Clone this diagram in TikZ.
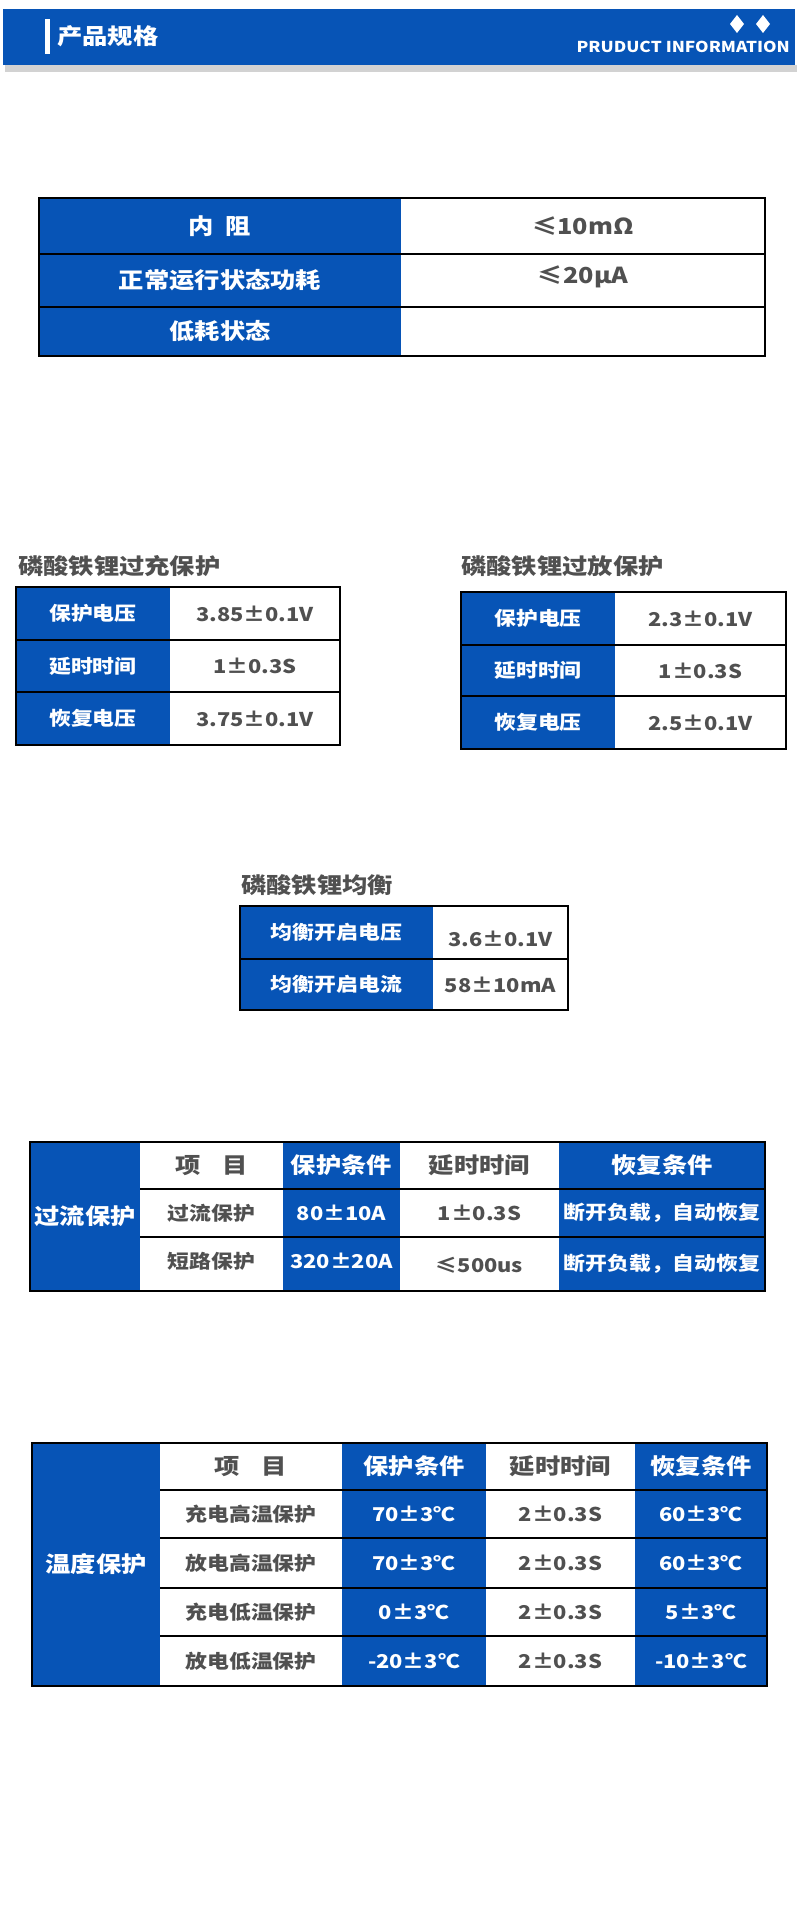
\documentclass[tikz,border=0pt]{standalone}
\usepackage{fontspec}
\newfontfamily\cjk[FakeStretch=1.15]{Noto Sans CJK SC}
\definecolor{pblue}{HTML}{0754B6}
\definecolor{tgray}{HTML}{505050}
\tikzset{wt/.style={text=white,font=\cjk\bfseries\fontsize{19}{22}\selectfont,inner sep=0pt},
gt/.style={text=tgray,font=\cjk\bfseries\fontsize{19}{22}\selectfont,inner sep=0pt},
big/.style={font=\cjk\bfseries\fontsize{22}{26}\selectfont},
rule/.style={line width=2.4pt,black}}
\newcommand\bcell[6]{\fill[pblue] (#1,#2) rectangle (#3,#4); \node[wt,#6] at ({(#1+#3)/2},{(#2+#4)/2}) {#5};}
\newcommand\wcell[6]{\node[gt,#6] at ({(#1+#3)/2},{(#2+#4)/2}) {#5};}
\begin{document}
\begin{tikzpicture}[x=1pt,y=-1pt]
\useasboundingbox (0,0) rectangle (800,1919);
\fill[white] (0,0) rectangle (800,1919);
% header
\fill[gray!35] (5,65) rectangle (797,72);
\fill[pblue] (3,9) rectangle (795,65);
\fill[white] (45,19) rectangle (50,54);
\node[text=white,big,anchor=west,inner sep=0pt] (title) at (57,36) {产品规格};
\node[text=white,font=\cjk\bfseries\fontsize{15}{18}\selectfont,anchor=east,inner sep=0pt] (info) at (790,47) {PRUDUCT INFORMATION};
\fill[white] (737,15) -- (744,24) -- (737,33) -- (730,24) -- cycle;
\fill[white] (763,15) -- (770,24) -- (763,33) -- (756,24) -- cycle;
% table 1
\bcell{39}{198}{401}{254}{内\ \ 阻}{big,name=t1a}
\bcell{39}{254}{401}{307}{正常运行状态功耗}{big,name=t1b}
\bcell{39}{307}{401}{356}{低耗状态}{big,name=t1c}
\wcell{401}{198}{765}{254}{≤10mΩ}{big,name=t1d}
\wcell{401}{254}{765}{300}{≤20μA}{big,name=t1e}
\draw[rule] (39,254) -- (765,254) (39,307) -- (765,307);
\draw[rule] (39,198) rectangle (765,356);
% table A
\node[gt,big,anchor=west] (ta) at (18,566) {磷酸铁锂过充保护};
\bcell{16}{587}{170}{640}{保护电压}{name=a1}
\bcell{16}{640}{170}{692}{延时时间}{name=a2}
\bcell{16}{692}{170}{745}{恢复电压}{name=a3}
\wcell{170}{587}{340}{640}{3.85±0.1V}{name=a4}
\wcell{170}{640}{340}{692}{1±0.3S}{name=a5}
\wcell{170}{692}{340}{745}{3.75±0.1V}{name=a6}
\draw[rule] (16,640) -- (340,640) (16,692) -- (340,692);
\draw[rule] (16,587) rectangle (340,745);
% table B
\node[gt,big,anchor=west] (tb) at (461,566) {磷酸铁锂过放保护};
\bcell{461}{592}{615}{645}{保护电压}{name=b1}
\bcell{461}{645}{615}{696}{延时时间}{name=b2}
\bcell{461}{696}{615}{749}{恢复电压}{name=b3}
\wcell{615}{592}{786}{645}{2.3±0.1V}{name=b4}
\wcell{615}{645}{786}{696}{1±0.3S}{name=b5}
\wcell{615}{696}{786}{749}{2.5±0.1V}{name=b6}
\draw[rule] (461,645) -- (786,645) (461,696) -- (786,696);
\draw[rule] (461,592) rectangle (786,749);
% balance
\node[gt,big,anchor=west] (tc) at (241,885) {磷酸铁锂均衡};
\bcell{240}{906}{433}{959}{均衡开启电压}{name=c1}
\bcell{240}{959}{433}{1010}{均衡开启电流}{name=c2}
\wcell{433}{912}{568}{965}{3.6±0.1V}{name=c3}
\wcell{433}{959}{568}{1010}{58±10mA}{name=c4}
\draw[rule] (240,959) -- (568,959);
\draw[rule] (240,906) rectangle (568,1010);
% overcurrent
\bcell{30}{1142}{140}{1291}{过流保护}{big,name=d0}
\fill[pblue] (283,1142) rectangle (400,1291);
\fill[pblue] (559,1142) rectangle (765,1291);
\wcell{140}{1142}{283}{1189}{项\quad 目}{big,name=d1}
\node[wt,big] (d2) at (341.5,1165) {保护条件};
\wcell{400}{1142}{559}{1189}{延时时间}{big,name=d3}
\node[wt,big] (d4) at (662,1165) {恢复条件};
\wcell{140}{1189}{283}{1237}{过流保护}{name=d5}
\node[wt] (d6) at (341.5,1213) {80±10A};
\wcell{400}{1189}{559}{1237}{1±0.3S}{name=d7}
\node[wt] (d8) at (662,1213) {断开负载，自动恢复};
\wcell{140}{1237}{283}{1285}{短路保护}{name=d9}
\node[wt] (d10) at (341.5,1261) {320±20A};
\wcell{400}{1240}{559}{1291}{≤500us}{name=d11}
\node[wt] (d12) at (662,1264) {断开负载，自动恢复};
\draw[rule] (140,1189) -- (765,1189) (140,1237) -- (765,1237);
\draw[rule] (30,1142) rectangle (765,1291);
% temperature
\bcell{32}{1443}{160}{1686}{温度保护}{big,name=e0}
\fill[pblue] (342,1443) rectangle (486,1686);
\fill[pblue] (635,1443) rectangle (767,1686);
\wcell{160}{1443}{342}{1490}{项\quad 目}{big,name=e1}
\node[wt,big] (e2) at (414,1466) {保护条件};
\wcell{486}{1443}{635}{1490}{延时时间}{big,name=e3}
\node[wt,big] (e4) at (701,1466) {恢复条件};
\wcell{160}{1490}{342}{1538}{充电高温保护}{name=e5}
\node[wt] (e6) at (414,1514) {70±3℃};
\wcell{486}{1490}{635}{1538}{2±0.3S}{name=e7}
\node[wt] (e8) at (701,1514) {60±3℃};
\wcell{160}{1538}{342}{1588}{放电高温保护}{name=e9}
\node[wt] (e10) at (414,1563) {70±3℃};
\wcell{486}{1538}{635}{1588}{2±0.3S}{name=e11}
\node[wt] (e12) at (701,1563) {60±3℃};
\wcell{160}{1588}{342}{1636}{充电低温保护}{name=e13}
\node[wt] (e14) at (414,1612) {0±3℃};
\wcell{486}{1588}{635}{1636}{2±0.3S}{name=e15}
\node[wt] (e16) at (701,1612) {5±3℃};
\wcell{160}{1636}{342}{1686}{放电低温保护}{name=e17}
\node[wt] (e18) at (414,1661) {-20±3℃};
\wcell{486}{1636}{635}{1686}{2±0.3S}{name=e19}
\node[wt] (e20) at (701,1661) {-10±3℃};
\draw[rule] (160,1490) -- (767,1490) (160,1538) -- (767,1538) (160,1588) -- (767,1588) (160,1636) -- (767,1636);
\draw[rule] (32,1443) rectangle (767,1686);
\end{tikzpicture}
\end{document}
